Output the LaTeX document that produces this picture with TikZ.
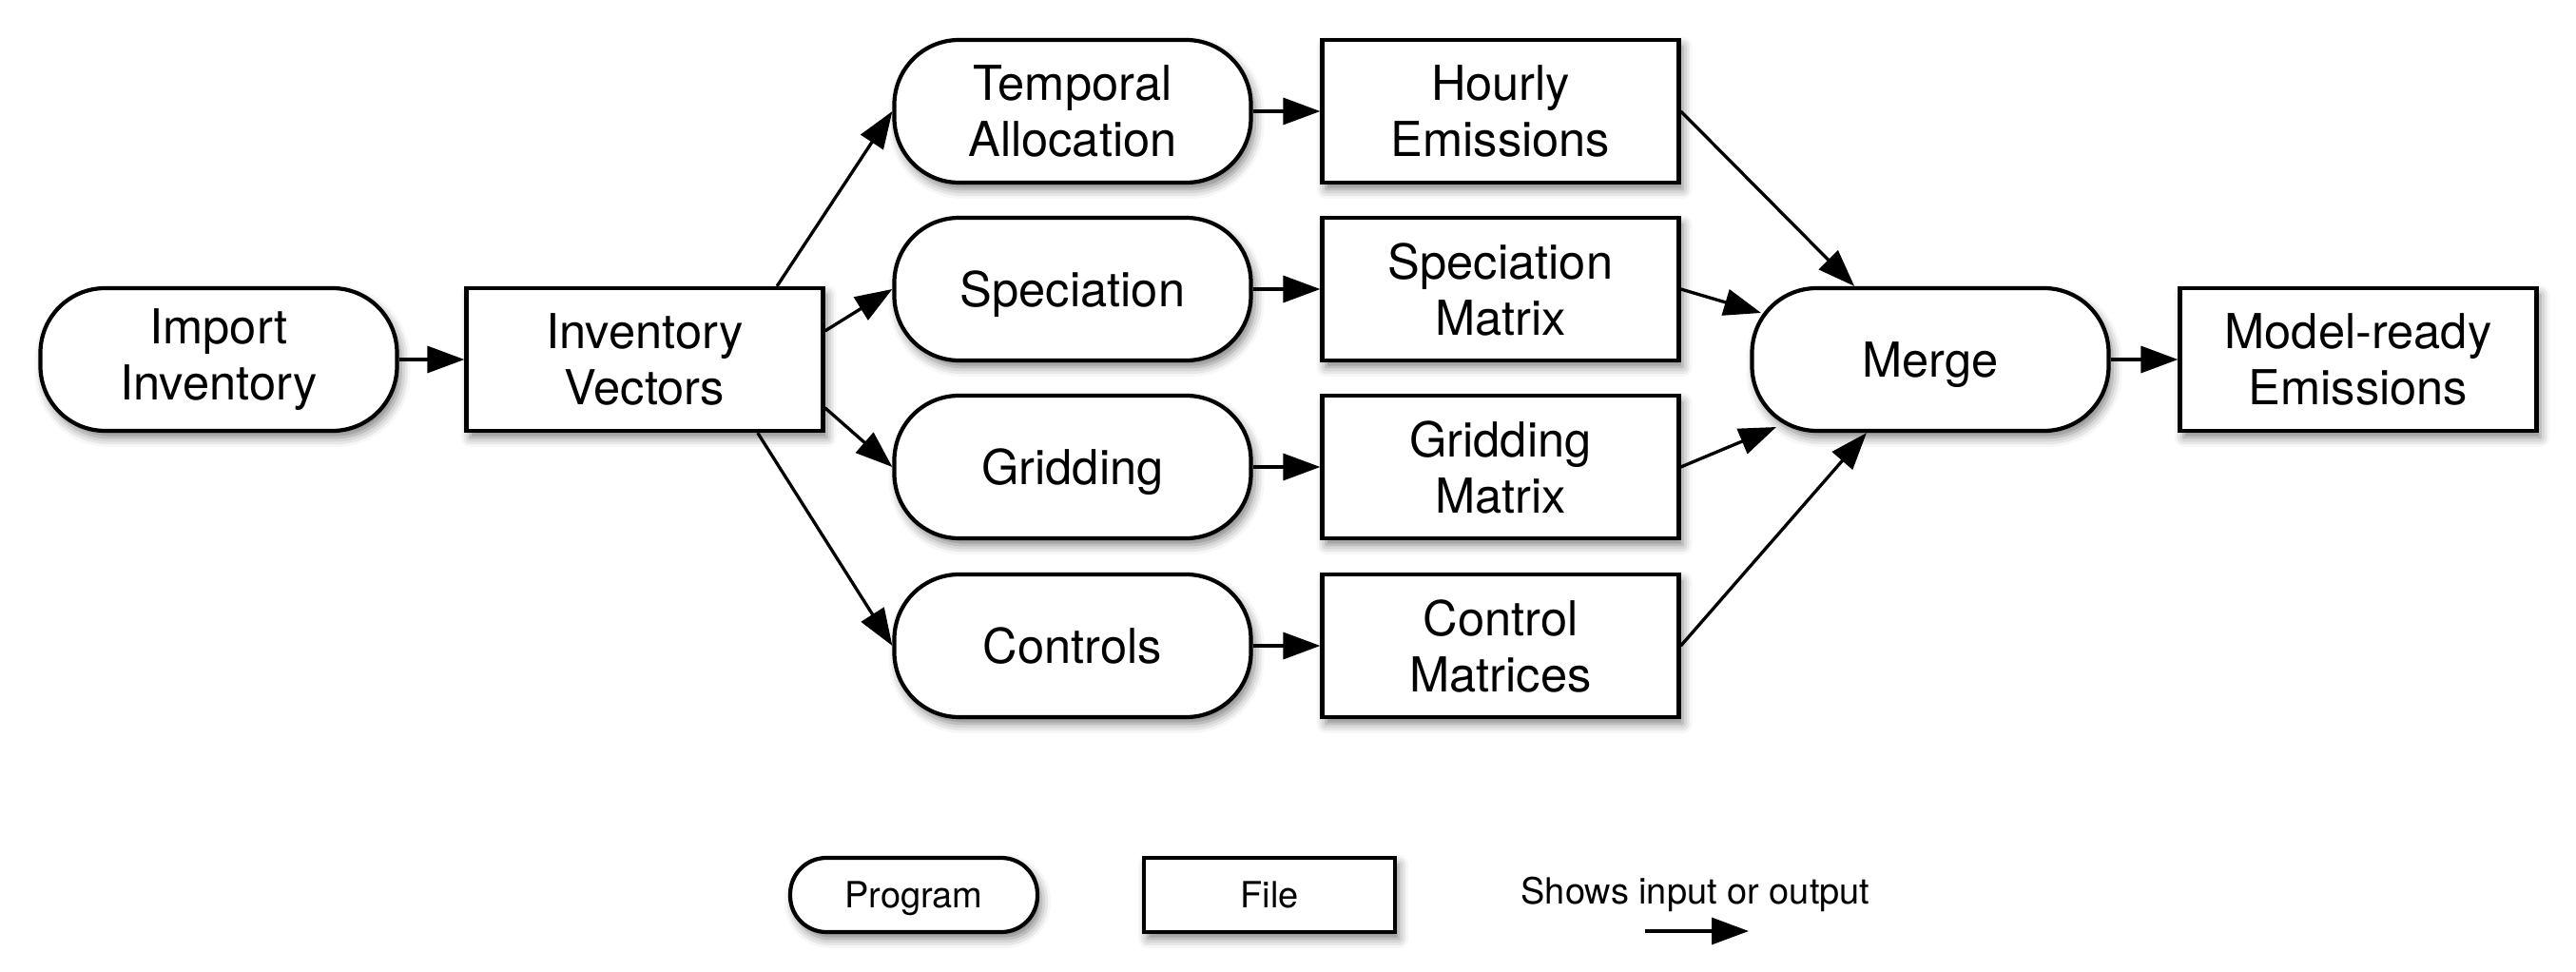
\documentclass[tikz,border=0pt]{standalone}
\usepackage{fontspec}
\setmainfont{TeX Gyre Heros}
\usetikzlibrary{arrows.meta,shadows.blur}

\begin{document}
\begin{tikzpicture}[
prog/.style={draw,line width=1.2pt,fill=white,rounded corners=0.68cm,minimum width=3.75cm,minimum height=1.5cm,align=center,font=\fontsize{14.4}{16.8}\selectfont,blur shadow={shadow xshift=0.04cm,shadow yshift=-0.07cm,shadow blur radius=0.1cm,shadow opacity=50}},
file/.style={prog,sharp corners},
nodepth/.style={text depth=0pt},
legprog/.style={prog,minimum width=2.6cm,minimum height=0.78cm,rounded corners=0.38cm,font=\fontsize{10.8}{12}\selectfont},
legfile/.style={legprog,sharp corners,minimum width=2.64cm},
flow/.style={-{Triangle[length=0.39cm,width=0.28cm]},line width=0.95pt}]
\useasboundingbox (0,0) rectangle (27.09,10.21);
\node[prog] (imp) at (2.30,6.43) {Import\\Inventory};
\node[file] (vec) at (6.78,6.43) {Inventory\\Vectors};
\node[prog] (temporal) at (11.28,9.04) {Temporal\\Allocation};
\node[prog,nodepth] (spec) at (11.28,7.17) {Speciation};
\node[prog,nodepth] (grid) at (11.28,5.30) {Gridding};
\node[prog] (ctrl) at (11.28,3.42) {Controls};
\node[file] (hourly) at (15.78,9.04) {Hourly\\Emissions};
\node[file] (specmat) at (15.78,7.17) {Speciation\\Matrix};
\node[file] (gridmat) at (15.78,5.30) {Gridding\\Matrix};
\node[file] (ctrlmat) at (15.78,3.42) {Control\\Matrices};
\node[prog,nodepth] (merge) at (20.30,6.43) {Merge};
\node[file] (model) at (24.80,6.43) {Model-ready\\Emissions};
\node[legprog,nodepth] (legprog) at (9.61,0.80) {Program};
\node[legfile] (legfile) at (13.35,0.80) {File};
\node[anchor=base,font=\fontsize{10.8}{12}\selectfont] (legtext) at (17.83,0.71) {Shows input or output};
\coordinate (legfrom) at (17.30,0.42);
\coordinate (legto) at (18.39,0.42);

\draw[flow] (imp) -- (vec);
\draw[flow] (vec.29) -- (temporal.west);
\draw[flow] (vec.9) -- (spec.west);
\draw[flow] (vec.-15) -- (grid.west);
\draw[flow] (vec.-33) -- (ctrl.west);
\draw[flow] (temporal) -- (hourly);
\draw[flow] (spec) -- (specmat);
\draw[flow] (grid) -- (gridmat);
\draw[flow] (ctrl) -- (ctrlmat);
\draw[flow] (hourly.east) -- (merge.136);
\draw[flow] (specmat.east) -- ([shift={(-1.78,0.49)}]merge.center);
\draw[flow] (gridmat.east) -- ([shift={(-1.62,-0.71)}]merge.center);
\draw[flow] (ctrlmat.east) -- (merge.229);
\draw[flow] (merge) -- (model);
\draw[flow] (legfrom) -- (legto);
\end{tikzpicture}
\end{document}
